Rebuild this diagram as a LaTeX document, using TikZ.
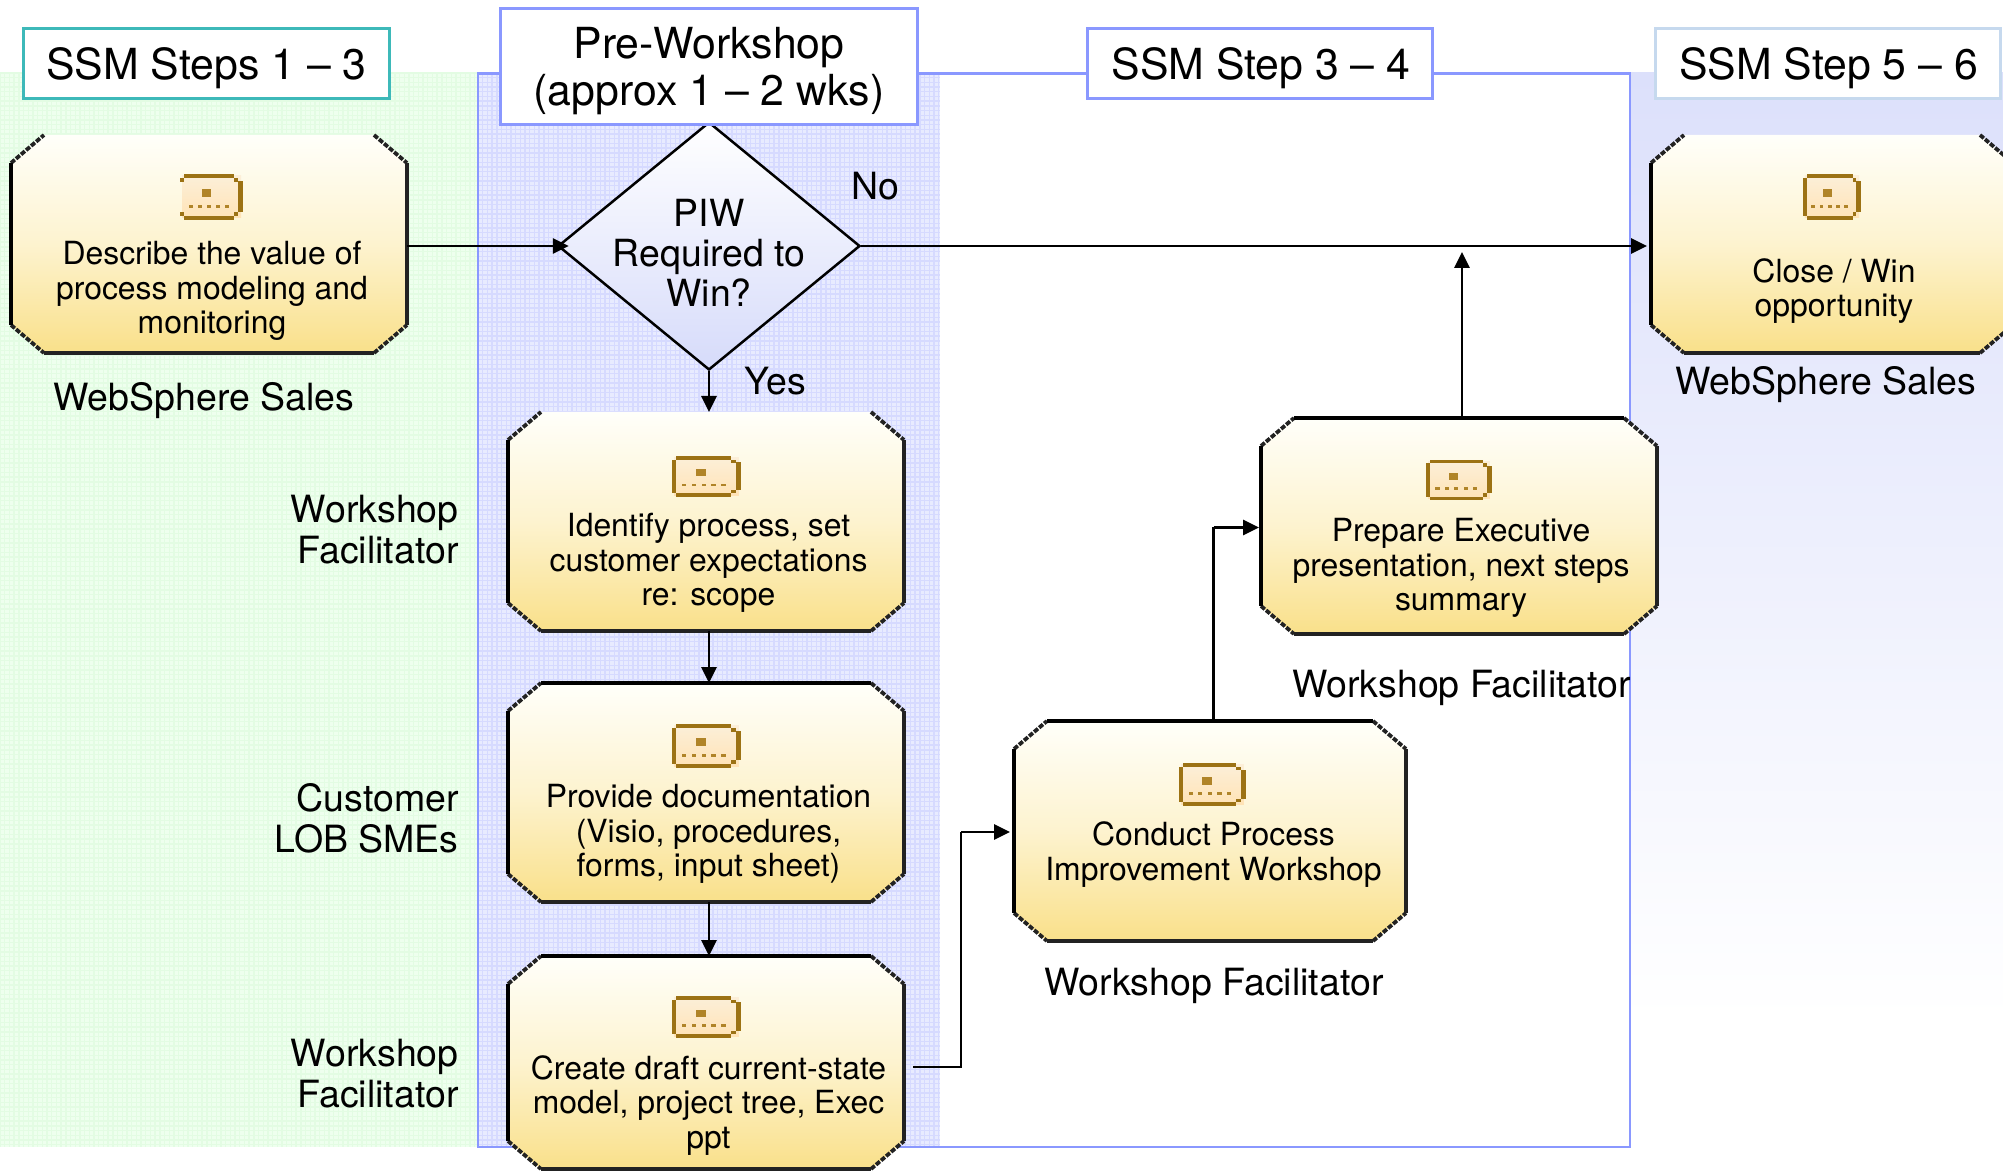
\documentclass[tikz,border=0pt]{standalone}
\usepackage{fontspec}
\setmainfont{TeX Gyre Heros}
\usetikzlibrary{arrows.meta,shapes.geometric,calc}
\definecolor{framecol}{HTML}{8A98FF}
\definecolor{tealcol}{HTML}{3DB9B9}
\definecolor{palecol}{HTML}{C6D9EE}
\definecolor{edgecol}{HTML}{222222}
\definecolor{icondark}{HTML}{9C7214}
\definecolor{iconmid}{HTML}{B08428}
\definecolor{octtop}{HTML}{FFFFFA}
\definecolor{octmid}{HTML}{FDF3CF}
\definecolor{octbot}{HTML}{F9E08A}
\tikzset{
  hdr/.style={draw,line width=1.5pt,fill=white,inner sep=0pt},
  hdrtext/.style={align=center,inner sep=0pt,font=\fontsize{21.4}{23.4}\selectfont},
  boxanchor/.style={rectangle,inner sep=0pt,outer sep=0pt},
  boxtext/.style={align=center,inner sep=0pt,font=\fontsize{15.95}{17.25}\selectfont},
  lbl/.style={align=center,inner sep=0pt,font=\fontsize{18.75}{20.5}\selectfont},
  lblr/.style={align=right,inner sep=0pt,font=\fontsize{18.75}{20.5}\selectfont},
  octfill/.style={shading=axis,top color=octtop,bottom color=octbot,middle color=octmid},
  sideedge/.style={line width=2pt,line cap=butt},
  corneredge/.style={edgecol,line width=1.9pt,dash pattern=on 2.5pt off 0.8pt},
  flow/.style={line width=1.4pt,black,-{Triangle[length=8pt,width=7.5pt]}},
  plain/.style={line width=1.4pt,black},
}
\newcommand{\octbox}[6]{%
  \path[octfill] (#2,#3+28) -- (#2+33,#3) -- (#4-33,#3) -- (#4,#3+28) -- (#4,#5-28) -- (#4-33,#5) -- (#2+33,#5) -- (#2,#5-28) -- cycle;
  \draw[corneredge] (#2,#3+28) -- (#2+33,#3);
  \draw[corneredge] (#4-33,#3) -- (#4,#3+28);
  \draw[corneredge] (#2,#5-28) -- (#2+33,#5);
  \draw[corneredge] (#4-33,#5) -- (#4,#5-28);
  \draw[sideedge,black] (#2,#3+28) -- (#2,#5-28);
  \draw[sideedge,edgecol] (#4,#3+28) -- (#4,#5-28);
  \draw[edgecol,line width=2.4pt] (#2+33,#5) -- (#4-33,#5);
  \ifnum#6=1 \draw[black,line width=2pt] (#2+33,#3) -- (#4-33,#3);\fi
  \node[boxanchor,minimum width={(#4-(#2))*0.5pt},minimum height={(#5-(#3))*0.5pt}] (#1) at ({(#2+#4)/2},{(#3+#5)/2}) {};
}
\newcommand{\pxicon}[5]{% x0,y0,w,h,left bar
  \begin{scope}[shift={(#1,#2)},xscale=#3/63,yscale=#4/46]
    \path[top color=iconA,bottom color=iconB] (2,2) rectangle (61,44);
    \fill[icondark] (4,0) rectangle (54,4);
    \fill[icondark] (4,42) rectangle (54,46);
    \fill[icondark] (0,4) rectangle (4,8);
    \fill[icondark] (0,38) rectangle (4,42);
    \fill[icondark] (54,4) rectangle (58,8);
    \fill[icondark] (54,38) rectangle (58,42);
    \fill[icondark] (58,7) rectangle (63,38);
    \ifnum#5=1 \fill[icondark] (0,8) rectangle (4,38);\fi
    \fill[iconmid] (22,15) rectangle (31,23);
    \foreach \d in {9,18,27,36,45} {\fill[iconmid] (\d,31) rectangle (\d+4,34);}
  \end{scope}
}
\definecolor{iconA}{HTML}{FCEFD8}
\definecolor{iconB}{HTML}{FFE3B6}
\definecolor{greenbase}{HTML}{EEFFEE}
\definecolor{greenline}{HTML}{E3FCE3}
\definecolor{bluebase}{HTML}{E8EBFF}
\definecolor{blueline}{HTML}{D6DAFF}
\definecolor{rightbg}{HTML}{DCE0FB}
\definecolor{diabot}{HTML}{D6DBFA}
\begin{document}
\begin{tikzpicture}[x=0.5pt,y=-0.5pt]
\useasboundingbox (0,0) rectangle (2003,1171);
\clip (0,0) rectangle (2003,1171);
% backgrounds
\fill[greenbase] (0,73) rectangle (478,1147);
\begin{scope}
  \clip (0,73) rectangle (478,1147);
  \foreach \i in {0,...,102} {\draw[greenline,line width=0.7pt] ({\i*4.7},73) -- ({\i*4.7},1147);}
  \foreach \i in {0,...,229} {\draw[greenline,line width=0.7pt] (0,{73+\i*4.7}) -- (478,{73+\i*4.7});}
\end{scope}
\fill[bluebase] (478,73) rectangle (940,1147);
\begin{scope}
  \clip (478,73) rectangle (940,1147);
  \foreach \i in {0,...,99} {\draw[blueline,line width=0.7pt] ({478+\i*4.7},73) -- ({478+\i*4.7},1147);}
  \foreach \i in {0,...,229} {\draw[blueline,line width=0.7pt] (478,{73+\i*4.7}) -- (940,{73+\i*4.7});}
\end{scope}
\path[top color=rightbg,bottom color=white] (1630,73) rectangle (2003,1020);
\draw[framecol,line width=1.4pt] (478,73.5) rectangle (1630,1147);
% decision
\node[diamond,draw=black,line width=1.25pt,aspect=1.22,inner sep=0pt,minimum width=151pt,minimum height=124pt,top color=white,bottom color=diabot,shading=axis] (d) at (709,246) {};
\node[lbl,font=\fontsize{18.7}{20}\selectfont] (dt) at (709,253) {PIW\\Required to\\Win?};
% boxes
\octbox{sales}{11}{135}{407}{353}{0}
\pxicon{180}{174}{63}{46}{0}
\node[boxtext] (salest) at (212,291) {Describe the value of\\process modeling and\\monitoring};
\octbox{close}{1651}{135}{2013}{353}{0}
\pxicon{1803}{174}{58}{46}{1}
\node[boxtext] (closet) at (1834,291) {Close / Win\\opportunity};
\octbox{identify}{508}{412}{904}{631}{0}
\pxicon{672}{456}{69}{41}{1}
\node[boxtext] (identifyt) at (708.5,563) {Identify process, set\\customer expectations\\re: scope};
\octbox{provide}{508}{683}{904}{902}{1}
\pxicon{672}{724}{69}{44}{1}
\node[boxtext] (providet) at (708.5,834) {Provide documentation\\(Visio, procedures,\\forms, input sheet)};
\octbox{create}{508}{956}{904}{1169}{1}
\pxicon{672}{996}{69}{42}{1}
\node[boxtext] (createt) at (708.5,1105.5) {Create draft current-state\\model, project tree, Exec\\ppt};
\octbox{prepare}{1261}{418}{1657}{634}{1}
\pxicon{1426}{460}{66}{40}{1}
\node[boxtext] (preparet) at (1461,568) {Prepare Executive\\presentation, next steps\\summary};
\octbox{conduct}{1014}{721}{1406}{941}{1}
\pxicon{1179}{763}{67}{43}{1}
\node[boxtext] (conductt) at (1213.5,854.5) {Conduct Process\\Improvement Workshop};
% connectors
\coordinate (cs) at (913,1067);
\coordinate (b1) at (961,832);
\coordinate (up) at (1462,252);
\coordinate (rise) at (1213.5,527.5);
\draw[flow,shorten >=-6pt] (sales.east |- d.west) -- (d.west);
\draw[flow] (d.east) -- ([xshift=-2pt]close.west |- d.east);
\draw[flow] (d.south) -- (d.south |- identify.north);
\draw[flow] (identify.south -| d.south) -- (d.south |- provide.north);
\draw[flow] (provide.south -| d.south) -- (d.south |- create.north);
\draw[plain] (cs) -| (b1);
\draw[flow] (b1) -- ([xshift=-2pt]conduct.west |- b1);
\draw[plain] (conduct.north -| rise) -- (rise);
\draw[flow] (rise) -- ([xshift=-1pt]prepare.west |- rise);
\draw[flow] (prepare.north -| up) -- (up);
% headers
\node[hdr,draw=tealcol,minimum width=183pt,minimum height=35pt] (h1) at (206.5,64) {};
\node[hdrtext] (h1t) at (206.5,68) {SSM Steps 1 – 3};
\node[hdr,draw=framecol,minimum width=208.5pt,minimum height=58pt] (h2) at (708.5,67) {};
\node[hdrtext] (h2t) at (709,71) {Pre-Workshop\\(approx 1 – 2 wks)};
\node[hdr,draw=framecol,minimum width=172.5pt,minimum height=35pt] (h3) at (1260,64) {};
\node[hdrtext] (h3t) at (1261,68) {SSM Step 3 – 4};
\node[hdr,draw=palecol,minimum width=172.5pt,minimum height=35pt] (h4) at (1828,64) {};
\node[hdrtext] (h4t) at (1828.5,68) {SSM Step 5 – 6};
% labels
\node[lbl] (no) at (875,186) {No};
\node[lbl] (yes) at (775.5,381) {Yes};
\node[lbl] (ws1) at (204,401) {WebSphere Sales};
\node[lbl] (ws2) at (1826,385) {WebSphere Sales};
\node[lblr,anchor=east] (wf1) at (459,529.5) {Workshop\\Facilitator};
\node[lblr,anchor=east] (lob) at (459,818) {Customer\\LOB SMEs};
\node[lblr,anchor=east] (wf2) at (459,1074) {Workshop\\Facilitator};
\node[lbl] (wf3) at (1461.5,687.5) {Workshop Facilitator};
\node[lbl] (wf4) at (1214,985.5) {Workshop Facilitator};
\end{tikzpicture}
\end{document}
